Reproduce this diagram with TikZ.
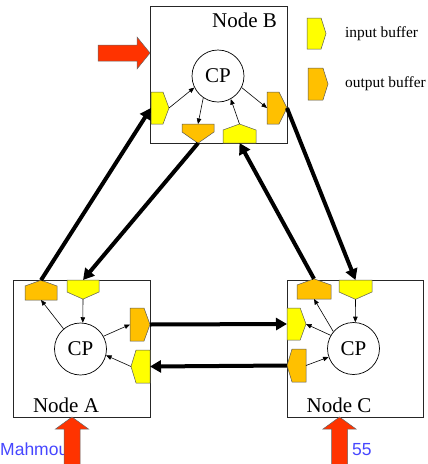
\documentclass[tikz,border=0pt]{standalone}
\usepackage{fontspec}
\setmainfont{Liberation Serif}
\newfontfamily\arialfont{Liberation Sans}
\usetikzlibrary{shapes.symbols,arrows.meta}
\definecolor{bufyellow}{RGB}{255,255,0}
\definecolor{bufor}{RGB}{255,192,0}
\definecolor{redarr}{RGB}{255,51,0}
\definecolor{footblue}{RGB}{70,70,255}
\tikzset{
  box/.style={draw=black!85, line width=0.9pt, fill=white, minimum width=137pt, minimum height=137pt, inner sep=0pt},
  cp/.style={circle, draw, line width=0.7pt, fill=white, minimum size=52pt, inner sep=0pt, font=\fontsize{21}{21}\selectfont},
  lbl/.style={anchor=base, font=\fontsize{21}{21}\selectfont, inner sep=0pt},
  legtext/.style={anchor=base west, font=\fontsize{15.4}{15.4}\selectfont, inner sep=0pt},
  buf/.style={shape=signal, draw=black!65, line width=0.5pt, inner sep=0pt, outer sep=0pt, signal pointer angle=130},
  inb/.style={fill=bufyellow},
  outb/.style={fill=bufor},
  link/.style={line width=4pt, -{Triangle[length=11pt,width=12pt]}},
  minor/.style={line width=0.6pt, -{Triangle[length=5.5pt,width=4.5pt]}},
  redarrow/.style={fill=redarr, draw=black!60, line width=0.5pt},
}
\begin{document}
\begin{tikzpicture}[x=1pt,y=-1pt]
\useasboundingbox (0,0) rectangle (428,464);

% boxes
\node[box] (B) at (218.5,74.5) {};
\node[box] (A) at (81.5,348.5) {};
\node[box, minimum width=136pt] (C) at (355,348.5) {};

% labels
\node[lbl] (Blabel) at (244.5,27) {Node B};
\node[lbl] (Alabel) at (66,412.5) {Node A};
\node[lbl] (Clabel) at (339,412.5) {Node C};

% CPs
\node[cp] (bCP) at (218,76) {CP};
\node[cp] (aCP) at (80.5,349) {CP};
\node[cp] (cCP) at (353.5,348.5) {CP};

% buffers B
\node[buf,inb,signal to=east,anchor=west,minimum width=18pt,minimum height=32pt,signal pointer angle=139] (bIn1) at (151,108) {};
\node[buf,outb,signal to=south,anchor=north,minimum width=32pt,minimum height=8pt,signal pointer angle=110] (bOut2) at (198,124) {};
\node[buf,inb,signal to=north,anchor=south,minimum width=33pt,minimum height=13pt,signal pointer angle=140] (bIn2) at (239.5,143) {};
\node[buf,outb,signal to=east,anchor=west,minimum width=20pt,minimum height=32pt,signal pointer angle=127] (bOut1) at (267,108) {};

% buffers A
\node[buf,outb,signal to=north,anchor=south,minimum width=32pt,minimum height=14pt,signal pointer angle=140] (aOut1) at (41,300) {};
\node[buf,inb,signal to=south,anchor=north,minimum width=32pt,minimum height=12pt,signal pointer angle=132] (aIn1) at (83,280) {};
\node[buf,outb,signal to=east,anchor=west,minimum width=20pt,minimum height=33pt,signal pointer angle=140] (aOut2) at (130,324.5) {};
\node[buf,inb,signal to=west,anchor=east,minimum width=19pt,minimum height=33pt,signal pointer angle=146] (aIn2) at (150,366.5) {};

% buffers C
\node[buf,outb,signal to=north,anchor=south,minimum width=34pt,minimum height=14pt,signal pointer angle=140] (cOut1) at (314,299) {};
\node[buf,inb,signal to=south,anchor=north,minimum width=33pt,minimum height=12pt,signal pointer angle=132] (cIn1) at (355.5,280) {};
\node[buf,inb,signal to=east,anchor=west,minimum width=19pt,minimum height=32pt,signal pointer angle=140] (cIn2) at (287,324) {};
\node[buf,outb,signal to=west,anchor=east,minimum width=19pt,minimum height=33pt,signal pointer angle=146] (cOut2) at (306,365.5) {};

% legend
\node[buf,inb,signal to=east,anchor=west,minimum width=19pt,minimum height=31pt,signal pointer angle=145] (legIn) at (307,33.5) {};
\node[buf,outb,signal to=east,anchor=west,minimum width=20pt,minimum height=32pt,signal pointer angle=145] (legOut) at (308,84) {};
\node[legtext] (legInT) at (345,37.5) {input buffer};
\node[legtext] (legOutT) at (345,87) {output buffer};

% internal arrows B
\draw[minor] (bIn1.east) -- (bCP.206);
\draw[minor] (bCP.236) -- (bOut2.north);
\draw[minor] (bIn2.north) -- (bCP.299);
\draw[minor] (bCP.334) -- (bOut1.west);

% internal arrows A
\draw[minor] (aCP.130) -- (aOut1.south);
\draw[minor] (aIn1.south) -- (aCP.85);
\draw[minor] (aCP.29) -- (aOut2.west);
\draw[minor] (aIn2.west) -- (aCP.346);

% internal arrows C
\draw[minor] (cCP.140) -- (cOut1.south);
\draw[minor] (cIn1.south) -- (cCP.86);
\draw[minor] (cCP.150) -- (cIn2.east);
\draw[minor] (cOut2.east) -- (cCP.199);

% links
\draw[link] (aOut1.north) -- (bIn1.west);
\draw[link] (bOut2.south) -- (aIn1.north);
\draw[link] (aOut2.east) -- (cIn2.west);
\draw[link] (cOut2.west) -- (aIn2.east);
\draw[link] (cOut1.north) -- (bIn2.south);
\draw[link] (bOut1.east) -- (cIn1.north);

% footer text
\node[anchor=base west, inner sep=0pt, text=footblue, font=\arialfont\fontsize{17.5}{17.5}\selectfont] (foot1) at (0,455) {Mahmou};
\node[anchor=base west, inner sep=0pt, text=footblue, font=\arialfont\fontsize{17.5}{17.5}\selectfont] (foot2) at (352,455) {55};

% red input arrows
\coordinate (bTip) at (150,53);
\coordinate (aTip) at (72,417);
\coordinate (cTip) at (339.5,417);
\filldraw[redarrow] (bTip) -- ++(-13,-16) -- ++(0,8) -- ++(-39,0) -- ++(0,16) -- ++(39,0) -- ++(0,8) -- cycle;
\filldraw[redarrow] (aTip) -- ++(16.5,12) -- ++(-8.5,0) -- ++(0,40) -- ++(-16,0) -- ++(0,-40) -- ++(-8.5,0) -- cycle;
\filldraw[redarrow] (cTip) -- ++(16.5,12) -- ++(-8.5,0) -- ++(0,40) -- ++(-16,0) -- ++(0,-40) -- ++(-8.5,0) -- cycle;
\end{tikzpicture}
\end{document}
